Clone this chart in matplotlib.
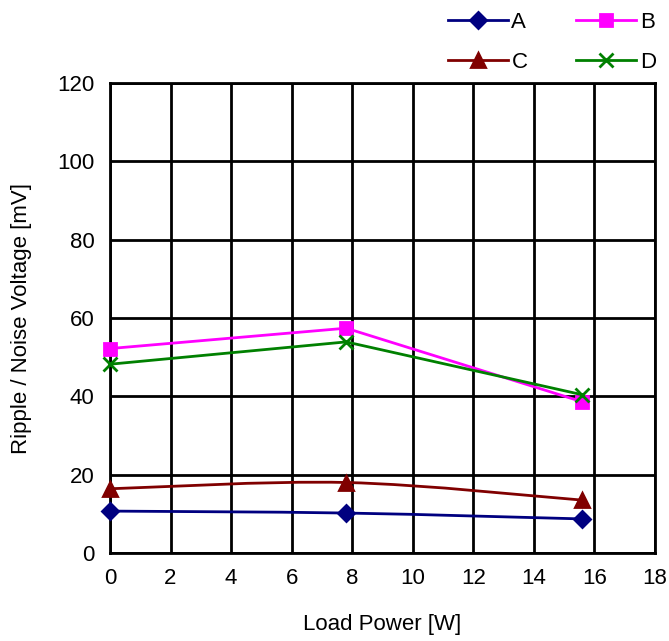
import numpy as np
import matplotlib.pyplot as plt
from matplotlib.path import Path
from matplotlib.patches import PathPatch
from matplotlib.lines import Line2D

plt.rcParams['font.family'] = ['Liberation Sans', 'DejaVu Sans']

# ---------------- DATA ----------------
load_power = [0, 7.8, 15.6]
series_a = [10.7, 10.2, 8.7]
series_b = [52.2, 57.4, 38.6]
series_c = [16.4, 18.0, 13.5]
series_d = [48.2, 53.9, 40.4]


def smooth_path(x, y):
    # Excel-style smoothed line: cubic bezier with catmull-rom tangents
    pts = np.column_stack([x, y]).astype(float)
    n = len(pts)
    verts = [pts[0]]
    codes = [Path.MOVETO]
    for i in range(n - 1):
        p0 = pts[i - 1] if i > 0 else pts[i]
        p1 = pts[i]
        p2 = pts[i + 1]
        p3 = pts[i + 2] if i + 2 < n else pts[i + 1]
        c1 = p1 + (p2 - p0) / 6.0
        c2 = p2 - (p3 - p1) / 6.0
        verts += [c1, c2, p2]
        codes += [Path.CURVE4] * 3
    return Path(verts, codes)


fig = plt.figure(figsize=(6.69, 6.41), dpi=100)
ax = fig.add_axes([110 / 669, 1 - 553 / 641, 545 / 669, 470 / 641])

styles = [
    ("A", series_a, "#000080", "D", 8, True),
    ("B", series_b, "#FF00FF", "s", 9, False),
    ("C", series_c, "#800000", "^", 10, True),
    ("D", series_d, "#008000", "x", 10, False),
]

handles = {}
for name, vals, col, mk, ms, smooth in styles:
    if smooth:
        ax.add_patch(PathPatch(smooth_path(load_power, vals), fill=False,
                               edgecolor=col, lw=2, zorder=3))
        ax.plot(load_power, vals, ls="none", marker=mk, ms=ms, color=col,
                mew=2, zorder=4, clip_on=False)
    else:
        ax.plot(load_power, vals, color=col, lw=2, marker=mk, ms=ms,
                mew=2, zorder=4, clip_on=False)
    handles[name] = Line2D([], [], color=col, lw=2, marker=mk, ms=ms,
                           mew=2, label=name)

ax.set_xlim(0, 18)
ax.set_ylim(0, 120)
ax.set_xticks(np.arange(0, 19, 2))
ax.set_yticks(np.arange(0, 121, 20))
ax.grid(True, color="black", lw=2)
ax.set_axisbelow(True)
for s in ax.spines.values():
    s.set_linewidth(2)
ax.tick_params(length=0, labelsize=16, pad=11)
ax.set_xlabel("Load Power [W]", fontsize=16, labelpad=18)
ax.set_ylabel("Ripple / Noise Voltage [mV]", fontsize=16, labelpad=18)

# legend is filled column-wise, so order gives rows A B / C D
fig.legend(handles=[handles["A"], handles["C"], handles["B"], handles["D"]],
           ncol=2, loc="upper right",
           bbox_to_anchor=(668 / 669, 1.0), frameon=False, fontsize=16,
           handlelength=2.7, handletextpad=0.15, columnspacing=2.2,
           labelspacing=0.85, borderaxespad=0.15)

fig.savefig("out.png", dpi=100)
